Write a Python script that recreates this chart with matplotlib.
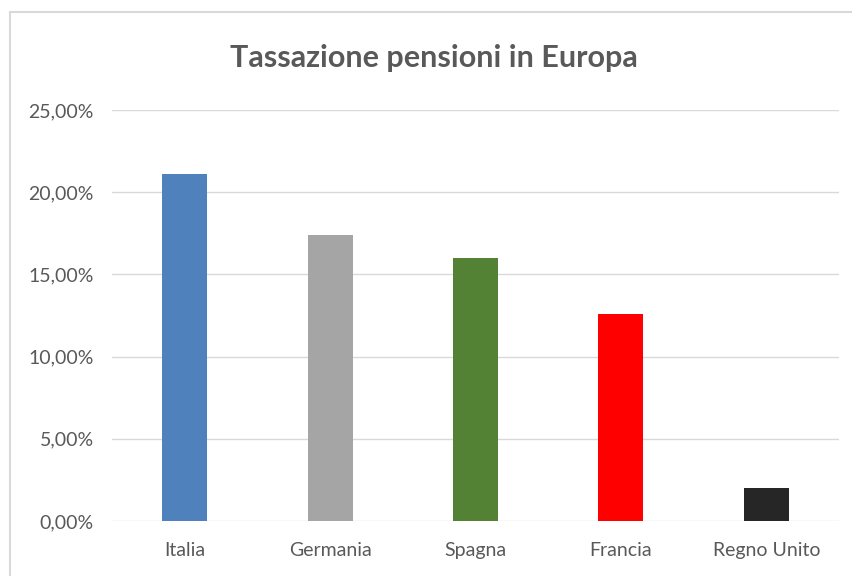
import matplotlib
matplotlib.use("Agg")
from matplotlib import pyplot as plt
from matplotlib.patches import Rectangle
from matplotlib.ticker import FuncFormatter

paesi = ["Italia", "Germania", "Spagna", "Francia", "Regno Unito"]
tassazione = [0.211, 0.174, 0.160, 0.126, 0.020]
colori = ["#4f81bd", "#a5a5a5", "#548235", "#ff0000", "#262626"]
y_ticks = [0.0, 0.05, 0.10, 0.15, 0.20, 0.25]

plt.rcParams["font.family"] = ["Lato", "DejaVu Sans"]

fig = plt.figure(figsize=(8.53, 5.76), dpi=100)
# chart border (cropped on right and bottom)
fig.patches.append(Rectangle((10 / 853, -0.1), 1.2, 1 - 12 / 576 + 0.1,
                             transform=fig.transFigure, fill=False,
                             edgecolor="#d9d9d9", linewidth=1.5))

ax = fig.add_axes([112 / 853, 1 - 521 / 576, (839 - 112) / 853, (521 - 110) / 576])
ax.bar(range(len(paesi)), tassazione, width=0.31, color=colori, zorder=3)

ax.set_xlim(-0.5, len(paesi) - 0.5)
ax.set_ylim(0, 0.25)
ax.set_yticks(y_ticks)
ax.yaxis.set_major_formatter(FuncFormatter(lambda v, p: f"{v * 100:.2f}%".replace(".", ",")))
ax.set_xticks(range(len(paesi)))
ax.set_xticklabels(paesi)
ax.grid(axis="y", color="#d9d9d9", linewidth=1, zorder=0)
for s in ax.spines.values():
    s.set_visible(False)
ax.tick_params(length=0, labelsize=14, colors="#595959")
ax.tick_params(axis="y", pad=13)
ax.tick_params(axis="x", pad=15)

fig.text(434 / 853, 1 - 58 / 576, "Tassazione pensioni in Europa", ha="center", va="center",
         fontsize=22, fontweight="bold", color="#595959")

fig.savefig("out.png", dpi=100)
